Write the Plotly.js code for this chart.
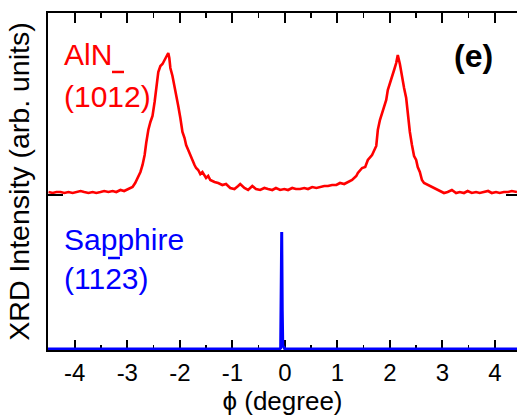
<!DOCTYPE html>
<html>
<head>
<meta charset="utf-8">
<script src="https://cdn.plot.ly/plotly-3.0.1.min.js"></script>
<style>html,body{margin:0;padding:0;overflow:hidden;background:#fff;}</style>
</head>
<body>
<div id="chart" style="width:517px;height:417px;"></div>
<script>
// AlN (10-12) phi scan (arbitrary units, offset upward)
const alnPhi = [-4.50,-4.42,-4.35,-4.27,-4.20,-4.12,-4.04,-3.97,-3.89,-3.82,-3.74,-3.66,-3.59,-3.51,-3.44,-3.36,-3.28,-3.21,-3.13,-3.06,-2.98,-2.90,-2.85,-2.79,-2.75,-2.71,-2.67,-2.64,-2.60,-2.56,-2.52,-2.48,-2.45,-2.41,-2.37,-2.33,-2.29,-2.26,-2.22,-2.20,-2.18,-2.14,-2.10,-2.07,-2.03,-1.99,-1.95,-1.91,-1.88,-1.84,-1.80,-1.76,-1.72,-1.69,-1.65,-1.61,-1.57,-1.53,-1.50,-1.46,-1.42,-1.34,-1.27,-1.19,-1.12,-1.04,-0.96,-0.89,-0.85,-0.77,-0.70,-0.62,-0.55,-0.47,-0.39,-0.32,-0.24,-0.17,-0.09,-0.01,0.06,0.14,0.21,0.29,0.37,0.44,0.52,0.60,0.67,0.75,0.82,0.90,0.98,1.05,1.13,1.20,1.28,1.36,1.39,1.47,1.53,1.58,1.66,1.74,1.77,1.81,1.89,1.93,1.96,2.00,2.04,2.08,2.12,2.15,2.19,2.23,2.27,2.31,2.34,2.38,2.42,2.46,2.50,2.53,2.57,2.61,2.65,2.72,2.80,2.88,2.95,3.03,3.10,3.18,3.26,3.33,3.41,3.48,3.56,3.64,3.71,3.79,3.87,3.94,4.02,4.09,4.17,4.25,4.32,4.42];
const alnInt = [158,157,158,158,157,158,157,158,159,158,157,158,157,158,159,158,159,158,160,159,161,163,167,173,178,185,195,207,220,228,234,248,262,278,284,286,290,293,297,292,282,274,264,254,244,232,218,212,205,200,194,190,185,182,180,176,178,174,172,174,170,168,167,165,166,162,161,164,166,162,160,164,161,160,162,161,160,162,160,161,160,162,161,161,162,161,163,162,163,164,164,165,165,167,166,168,170,174,177,182,183,190,195,204,220,230,242,250,260,266,272,280,287,295,286,272,262,252,235,218,205,194,190,183,178,170,167,165,163,161,159,157,158,160,157,158,157,159,157,158,157,158,159,157,158,157,158,158,159,158];
// Sapphire (11-23) phi scan
const sapPhi = [-4.51,-4.0,-3.5,-3.0,-2.5,-2.0,-1.5,-1.0,-0.5,-0.10,-0.08,-0.07,-0.06,-0.05,-0.04,-0.02,0.0,0.5,1.0,1.5,2.0,2.5,3.0,3.5,4.0,4.42];
const sapInt = [1,1,1,1,1.5,1,1,1,1,1,2,60,118,40,4,3,1,1,1,1,1,1,1,1,1,1];
const alnZeroLevel = 155;
const xTicks = [-4,-3,-2,-1,0,1,2,3,4];
const xTickText = ['-4','-3','-2','-1','0','1','2','3','4'];

const FONT = 'Liberation Sans, Arial, Helvetica, sans-serif';

const traces = [
  {x: alnPhi, y: alnInt, type: 'scatter', mode: 'lines', line: {color: '#ff0000', width: 2.6}, hoverinfo: 'skip'},
  {x: sapPhi, y: sapInt, type: 'scatter', mode: 'lines', line: {color: '#0000ff', width: 3}, hoverinfo: 'skip'}
];

const layout = {
  width: 517, height: 417,
  margin: {l: 48, r: 0, t: 13, b: 67},
  paper_bgcolor: '#fff', plot_bgcolor: '#fff',
  showlegend: false,
  font: {family: FONT, color: '#000'},
  xaxis: {
    range: [-4.51, 4.42],
    tickvals: xTicks, ticktext: xTickText,
    ticks: 'inside', ticklen: 10, tickwidth: 2, tickcolor: '#000',
    minor: {ticks: 'inside', ticklen: 5, tickwidth: 1.5, dtick: 0.5, tick0: 0, tickcolor: '#000'},
    showline: true, linewidth: 2, linecolor: '#000', mirror: 'ticks',
    showgrid: false, zeroline: false,
    tickfont: {size: 24, family: FONT, color: '#000'},
    title: {text: '\u03d5 (degree)', font: {size: 26, family: FONT, color: '#000'}, standoff: 6},
    layer: 'below traces'
  },
  yaxis: {
    range: [0, 337],
    showticklabels: false, ticks: '',
    showline: true, linewidth: 2, linecolor: '#000',
    showgrid: false, zeroline: false,
    title: {text: 'XRD Intensity (arb. units)', font: {size: 28.5, family: FONT, color: '#000'}, standoff: 8},
    layer: 'below traces'
  },
  shapes: [
    {type: 'line', xref: 'paper', yref: 'y', x0: 0, x1: 0.032, y0: alnZeroLevel, y1: alnZeroLevel, line: {color: '#000', width: 2}},
    {type: 'line', xref: 'paper', yref: 'y', x0: 0.9765, x1: 1, y0: alnZeroLevel, y1: alnZeroLevel, line: {color: '#000', width: 2}},
    {type: 'line', xref: 'paper', yref: 'paper', x0: 0.1365, x1: 0.162, y0: 0.825, y1: 0.825, line: {color: '#ff0000', width: 2.5}},
    {type: 'line', xref: 'paper', yref: 'paper', x0: 0.128, x1: 0.1535, y0: 0.273, y1: 0.273, line: {color: '#0000ff', width: 2.5}}
  ],
  annotations: [
    {text: 'AlN', xref: 'paper', yref: 'paper', x: 0.030, y: 0.878, xanchor: 'left', yanchor: 'middle', showarrow: false, font: {size: 30, family: FONT, color: '#ff0000'}},
    {text: '(1012)', xref: 'paper', yref: 'paper', x: 0.030, y: 0.752, xanchor: 'left', yanchor: 'middle', showarrow: false, font: {size: 30, family: FONT, color: '#ff0000'}},
    {text: 'Sapphire', xref: 'paper', yref: 'paper', x: 0.030, y: 0.329, xanchor: 'left', yanchor: 'middle', showarrow: false, font: {size: 30, family: FONT, color: '#0000ff'}},
    {text: '(1123)', xref: 'paper', yref: 'paper', x: 0.030, y: 0.212, xanchor: 'left', yanchor: 'middle', showarrow: false, font: {size: 30, family: FONT, color: '#0000ff'}},
    {text: '<b>(e)</b>', xref: 'paper', yref: 'paper', x: 0.908, y: 0.873, xanchor: 'center', yanchor: 'middle', showarrow: false, font: {size: 32, family: FONT, color: '#000'}}
  ]
};

Plotly.newPlot('chart', traces, layout, {staticPlot: true, displayModeBar: false});
</script>
</body>
</html>
